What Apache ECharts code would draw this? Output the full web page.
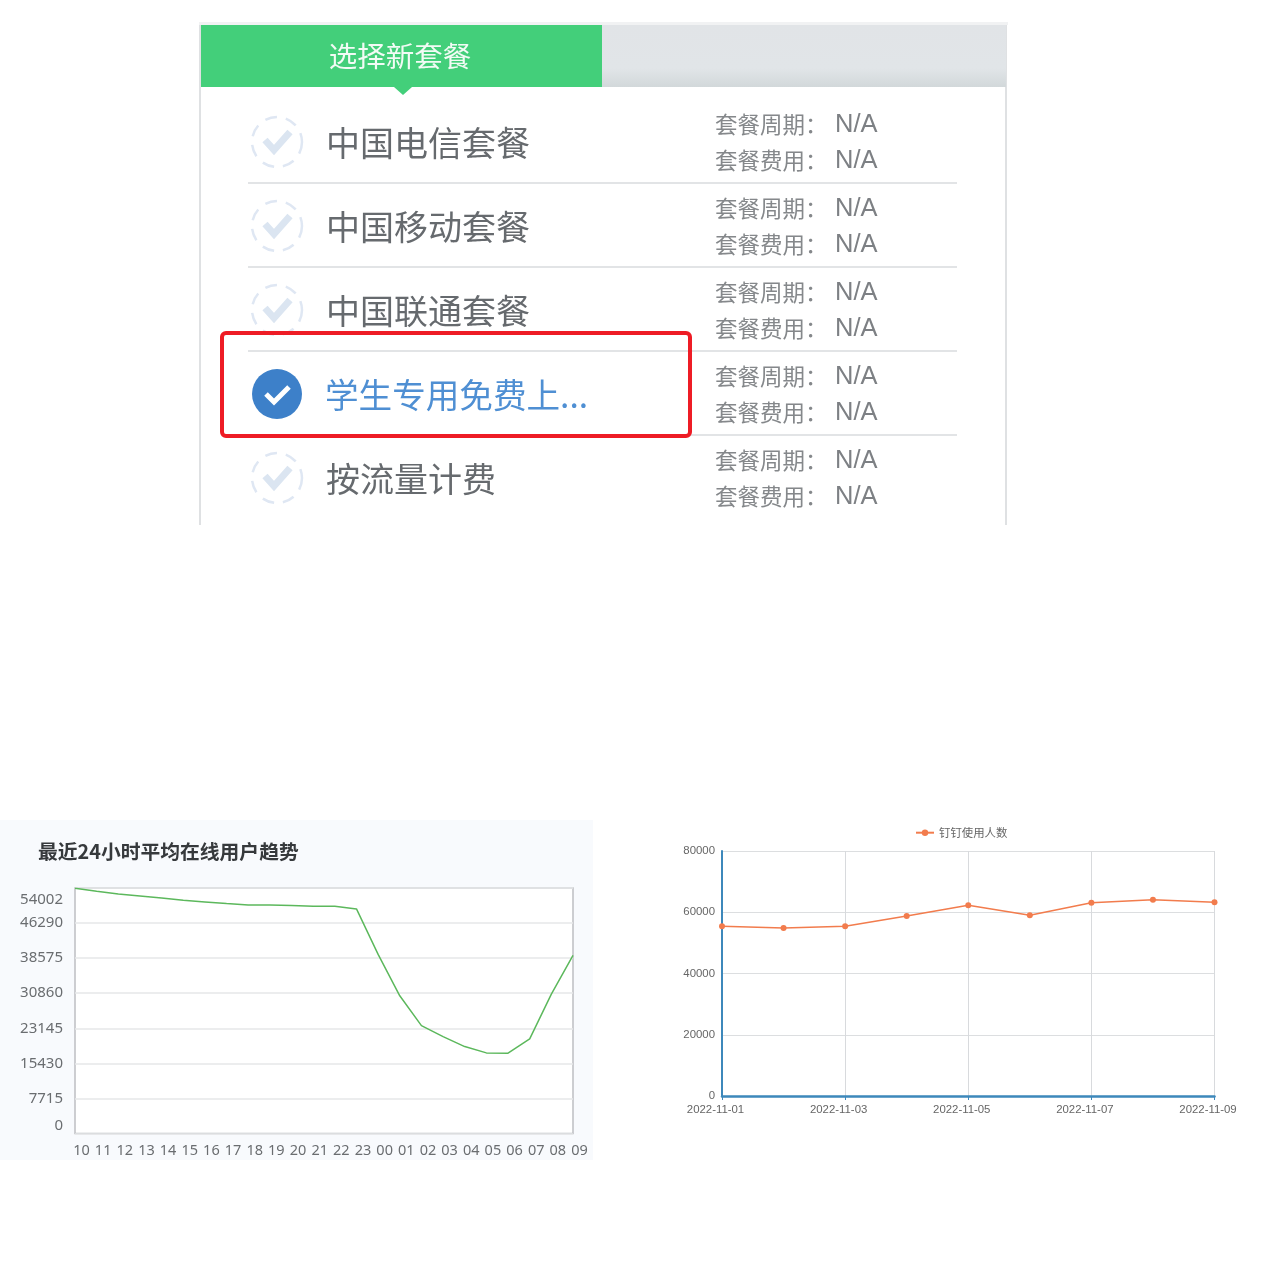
<!DOCTYPE html>
<html>
<head>
<meta charset="utf-8">
<style>html,body{margin:0;padding:0;background:#fff}#c{width:1280px;height:1280px}</style>
<script src="https://cdn.jsdelivr.net/npm/echarts@6/dist/echarts.min.js"></script>
</head>
<body>
<div id="c"></div>
<script>
const hours = ['10','11','12','13','14','15','16','17','18','19','20','21','22','23','00','01','02','03','04','05','06','07','08','09'];
const onlineUsers = [53950,53275,52690,52250,51815,51300,50940,50575,50280,50280,50135,49990,49990,49405,39400,30290,23720,21310,19120,17730,17660,20800,30650,39190];
const dates = ['2022-11-01','2022-11-02','2022-11-03','2022-11-04','2022-11-05','2022-11-06','2022-11-07','2022-11-08','2022-11-09'];
const dingUsers = [55400,54860,55400,58780,62260,59000,63130,64110,63240];
const planNames = ['中国电信套餐','中国移动套餐','中国联通套餐','学生专用免费上...','按流量计费'];
const selectedPlan = 3;
const leftTitle = '最近24小时平均在线用户趋势';
const seriesName = '钉钉使用人数';
const tabTitle = '选择新套餐';
const cycleLabel = '套餐周期：';
const feeLabel = '套餐费用：';
const naLabel = 'N/A';

const FONT = '"Noto Sans CJK SC","Noto Sans",sans-serif';
const gfx = [];
// left chart's pale backdrop
gfx.push({type:'rect',z:-10,shape:{x:0,y:820,width:593,height:340},style:{fill:'#f8fafd'}});
// panel frame: faint top edge and two side edges, open at the bottom
gfx.push({type:'rect',shape:{x:199,y:22,width:809,height:3},style:{fill:'#f1f2f3'}});
gfx.push({type:'line',shape:{x1:200,y1:25,x2:200,y2:525},style:{stroke:'#dfe1e3',lineWidth:2}});
gfx.push({type:'line',shape:{x1:1006,y1:25,x2:1006,y2:525},style:{stroke:'#dfe1e3',lineWidth:2}});
gfx.push({type:'rect',shape:{x:602,y:25,width:404,height:62},style:{fill:new echarts.graphic.LinearGradient(0,0,0,1,[{offset:0,color:'#e1e4e7'},{offset:.7,color:'#e1e5e8'},{offset:1,color:'#d2d8da'}])}});
gfx.push({type:'rect',shape:{x:201,y:25,width:401,height:62},style:{fill:'#43cf7a'}});
gfx.push({type:'polygon',shape:{points:[[394,87],[412,87],[403,95]]},style:{fill:'#43cf7a'}});
gfx.push({type:'text',style:{x:400,y:56,text:tabTitle,fill:'#f2fbf5',font:'28.5px '+FONT,align:'center',verticalAlign:'middle'}});
planNames.forEach(function(name,i){
  const off = 84*i, sel = i===selectedPlan;
  if(i<4) gfx.push({type:'line',shape:{x1:248,y1:183+off,x2:957,y2:183+off},style:{stroke:'#e2e4e6',lineWidth:2}});
  if(sel){
    gfx.push({type:'circle',shape:{cx:277,cy:142+off,r:25},style:{fill:'#3d80c9'}});
    gfx.push({type:'polyline',shape:{points:[[266,142+off],[274,150+off],[289,135+off]]},style:{stroke:'#fff',lineWidth:5,fill:null}});
  }else{
    gfx.push({type:'circle',shape:{cx:277,cy:142+off,r:25},style:{fill:'#fff',stroke:'#dfe7f3',lineWidth:2.5,lineDash:[12,9]}});
    gfx.push({type:'polyline',shape:{points:[[265,140+off],[274,150+off],[290,132+off]]},style:{stroke:'#dbe5f1',lineWidth:7,fill:null}});
  }
  gfx.push({type:'text',style:{x:sel?325:326,y:143+off,text:name,fill:sel?'#4f8fd3':'#666a6e',font:(sel?'33.6px ':'34px ')+FONT,verticalAlign:'middle'}});
  gfx.push({type:'text',style:{x:715,y:124+off,text:cycleLabel,fill:'#85888b',font:'22.5px '+FONT,verticalAlign:'middle'}});
  gfx.push({type:'text',style:{x:715,y:160+off,text:feeLabel,fill:'#85888b',font:'22.5px '+FONT,verticalAlign:'middle'}});
  gfx.push({type:'text',style:{x:835,y:125+off,text:naLabel,fill:'#7d8084',font:'25.5px "Liberation Sans",sans-serif',verticalAlign:'middle'}});
  gfx.push({type:'text',style:{x:835,y:161+off,text:naLabel,fill:'#7d8084',font:'25.5px "Liberation Sans",sans-serif',verticalAlign:'middle'}});
});
gfx.push({type:'rect',z:20,shape:{x:222,y:333,width:468,height:103,r:4},style:{fill:null,stroke:'#ee1c25',lineWidth:4}});

const Y_MAX = 54002;
const chart = echarts.init(document.getElementById('c'),null,{renderer:'canvas'});
chart.setOption({
  animation:false,
  backgroundColor:'#fff',
  graphic:{elements:gfx},
  title:[{text:leftTitle,left:38,top:842,padding:0,textStyle:{fontFamily:FONT,fontSize:19.8,fontWeight:'bold',color:'#36393c'}}],
  legend:[{data:[seriesName],left:910,top:822,itemWidth:18,itemHeight:8,itemGap:4,
    textStyle:{fontFamily:FONT,fontSize:11.4,color:'#666'}}],
  grid:[
    {left:75,top:888,width:498,height:245.5,show:true,backgroundColor:'#fff',borderColor:'#bdbfc2',borderWidth:1.5},
    {left:722,top:851,width:492.5,height:245,show:false}
  ],
  xAxis:[
    {gridIndex:0,type:'category',data:hours,boundaryGap:false,
      axisLine:{show:false},axisTick:{show:false},splitLine:{show:false},
      axisLabel:{interval:0,margin:10,color:'#6a6d70',fontFamily:'"Noto Sans",sans-serif',fontSize:14.5,padding:[0,0,0,13],hideOverlap:false}},
    {gridIndex:1,type:'category',data:dates,boundaryGap:false,
      axisLine:{show:true,lineStyle:{color:'#3d88bb',width:2.5}},
      axisTick:{show:true,interval:1,length:4,lineStyle:{color:'#3d88bb'}},
      splitLine:{show:true,interval:1,lineStyle:{color:'#d8dadd',width:1}},
      axisLabel:{interval:1,margin:8,color:'#666',fontFamily:'"Liberation Sans",sans-serif',fontSize:11.4,padding:[0,13,0,0]}}
  ],
  yAxis:[
    {gridIndex:0,type:'value',min:0,max:Y_MAX,interval:7715,
      axisLine:{show:false},axisTick:{show:false},
      splitLine:{show:true,lineStyle:{color:'#e6e7e9',width:1.5}},
      axisLabel:{margin:12,color:'#6a6d70',fontFamily:'"Noto Sans",sans-serif',fontSize:15,
        showMinLabel:true,showMaxLabel:true,verticalAlignMinLabel:'bottom',verticalAlignMaxLabel:'top',hideOverlap:false,
        formatter:function(v){return v===Y_MAX?'{top|'+v+'}':String(v);},
        rich:{top:{padding:[4,0,0,0],color:'#6a6d70',fontFamily:'"Noto Sans",sans-serif',fontSize:15}}}},
    {gridIndex:1,type:'value',min:0,max:80000,interval:20000,
      axisLine:{show:true,lineStyle:{color:'#3d88bb',width:2}},axisTick:{show:false},
      splitLine:{show:true,lineStyle:{color:'#dcdee0',width:1}},
      axisLabel:{margin:7,color:'#666',fontFamily:'"Liberation Sans",sans-serif',fontSize:11.4,padding:[0,0,3,0],formatter:function(v){return String(v);}}}
  ],
  series:[
    {type:'line',name:'最近24小时平均在线用户',xAxisIndex:0,yAxisIndex:0,data:onlineUsers,showSymbol:false,symbol:'none',
      lineStyle:{color:'#5cb85c',width:1.5},itemStyle:{color:'#5cb85c'}},
    {type:'line',name:seriesName,xAxisIndex:1,yAxisIndex:1,data:dingUsers,symbol:'circle',symbolSize:6,showSymbol:true,
      lineStyle:{color:'#f27c4d',width:1.5},itemStyle:{color:'#f27c4d'}}
  ]
});
</script>
</body>
</html>
